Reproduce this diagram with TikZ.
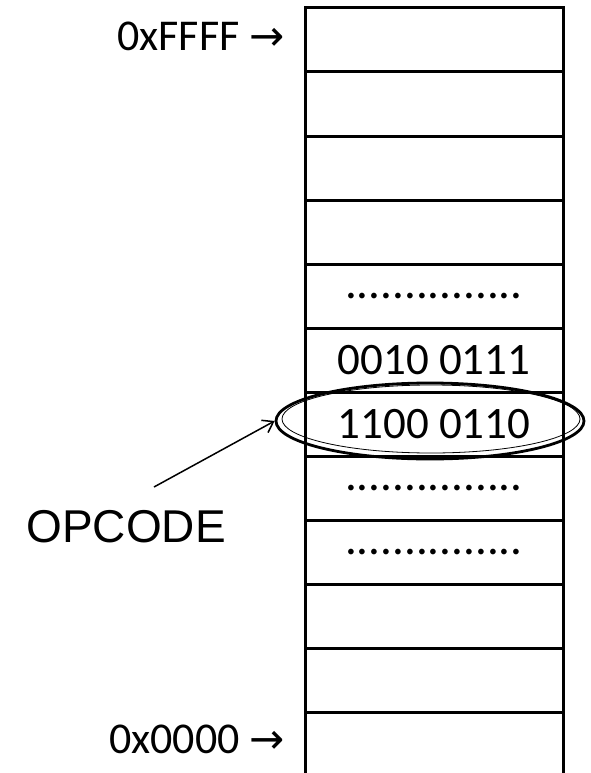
\documentclass[tikz,border=0pt]{standalone}
\usepackage{fontspec}
\setmainfont{Carlito}
\newfontfamily\arialfont{Liberation Sans}
\newfontfamily\arrowfont{DejaVu Sans}
\usetikzlibrary{positioning,shapes.geometric,arrows.meta}
\newcommand{\rarr}{{\arrowfont\fontsize{42}{44}\selectfont\symbol{"2192}}}
\newcommand{\dotrow}{{\fontsize{47}{50}\selectfont ...............}}

\begin{document}
\begin{tikzpicture}[x=1pt, y=-1pt,
    cell/.style={rectangle, draw, line width=3pt, minimum width=258pt, minimum height=64pt, inner sep=0pt, outer sep=0pt, font=\fontsize{45}{50}\selectfont},
    addr/.style={inner sep=0pt, font=\fontsize{44}{48}\selectfont},
    ring/.style={ellipse, draw, inner sep=0pt}]
    \useasboundingbox (0,0) rectangle (590,773);
    % memory cells, top to bottom
    \foreach \i/\txt in {1/,2/,3/,4/,5/\dotrow,6/0010 0111,7/1100 0110,8/\dotrow,9/\dotrow,10/,11/}
        \node[cell] (c\i) at (434, {40+64*(\i-1)}) {\txt};
    \node[cell, draw=none] (c12) at (434, 744) {};
    \draw[line width=3pt] (c12.south west) -- (c12.north west) -- (c12.north east) -- (c12.south east);
    % addresses
    \node[addr, left=20pt of c1, yshift=4pt] (hi) {0xFFFF \rarr};
    \node[addr, left=20pt of c12, yshift=5pt] (lo) {0x0000 \rarr};
    % opcode mark
    \node[ring, line width=2.8pt, minimum width=308pt, minimum height=76pt] (ring) at (430, 421) {};
    \node[ring, line width=0.8pt, minimum width=298pt, minimum height=68pt] (ringin) at (431, 419) {};
    \node[inner sep=0pt, font=\arialfont\fontsize{46}{50}\selectfont] (opcode) at (126, 527) {OPCODE};
    \coordinate (tail) at (154, 487);
    \draw[line width=1.5pt, -{Straight Barb[length=10pt, width=14pt]}] (tail) -- (ring.west);
\end{tikzpicture}
\end{document}
